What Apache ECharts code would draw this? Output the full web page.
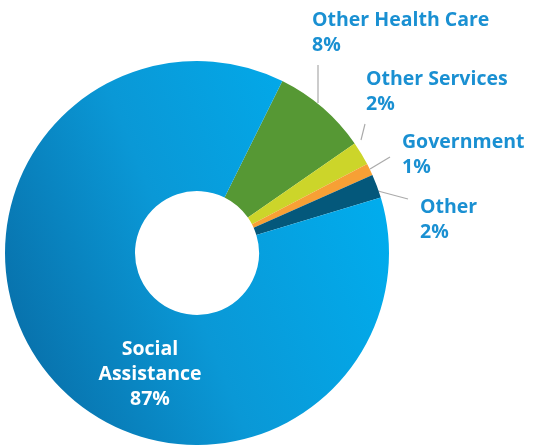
<!DOCTYPE html>
<html><head><meta charset="utf-8">
<script src="https://cdn.jsdelivr.net/npm/echarts@6/dist/echarts.min.js"></script>
<style>html,body{margin:0;padding:0;background:#fff}#c{width:536px;height:445px}</style>
</head><body><div id="c"></div>
<script>
const categories = ['Other Health Care', 'Other Services', 'Government', 'Other', 'Social Assistance'];
const values = [8, 2, 1, 2, 87];
const pctLabels = ['8%', '2%', '1%', '2%', '87%'];
const colors = ['#569834', '#ccd52a', '#f7a035', '#04587b', null];

const labelPos = [
  {x: 312, y: 33, line: [[318, 103], [318, 65]]},
  {x: 366, y: 92, line: [[361, 140], [365, 124]]},
  {x: 402, y: 155, line: [[370, 169], [390, 157]]},
  {x: 420, y: 220, line: [[378, 191], [408, 199]]},
  {x: 150, y: 374}
];

const gradient = new echarts.graphic.LinearGradient(0, 0.7, 1, 0.3, [
  {offset: 0, color: '#0870aa'},
  {offset: 0.45, color: '#0a98d6'},
  {offset: 1, color: '#00aeef'}
]);

const data = categories.map((name, i) => ({
  name: name,
  value: values[i],
  itemStyle: {color: colors[i] || gradient},
  label: i === 4 ? {
    position: 'inside', color: '#fff', align: 'center',
    formatter: 'Social\nAssistance\n' + pctLabels[i]
  } : {
    position: 'outside', color: '#1a90d2', align: 'left',
    formatter: name + '\n' + pctLabels[i]
  },
  labelLine: {show: i !== 4, lineStyle: {color: '#aaaaaa', width: 1.2}}
}));

const chart = echarts.init(document.getElementById('c'));
chart.setOption({
  animation: false,
  series: [{
    type: 'pie',
    center: [197, 253],
    radius: [62, 192],
    startAngle: 63.6,
    clockwise: true,
    avoidLabelOverlap: false,
    label: {
      fontFamily: 'Open Sans', fontWeight: 'bold', fontSize: 19.5, lineHeight: 25
    },
    labelLine: {show: true, length: 10, length2: 10},
    labelLayout: function (p) {
      const lp = labelPos[p.dataIndex];
      const out = {x: lp.x, y: lp.y, verticalAlign: 'middle', align: p.dataIndex === 4 ? 'center' : 'left'};
      if (lp.line) out.labelLinePoints = [lp.line[0], lp.line[1], lp.line[1]];
      return out;
    },
    data: data
  }]
});
</script></body></html>
